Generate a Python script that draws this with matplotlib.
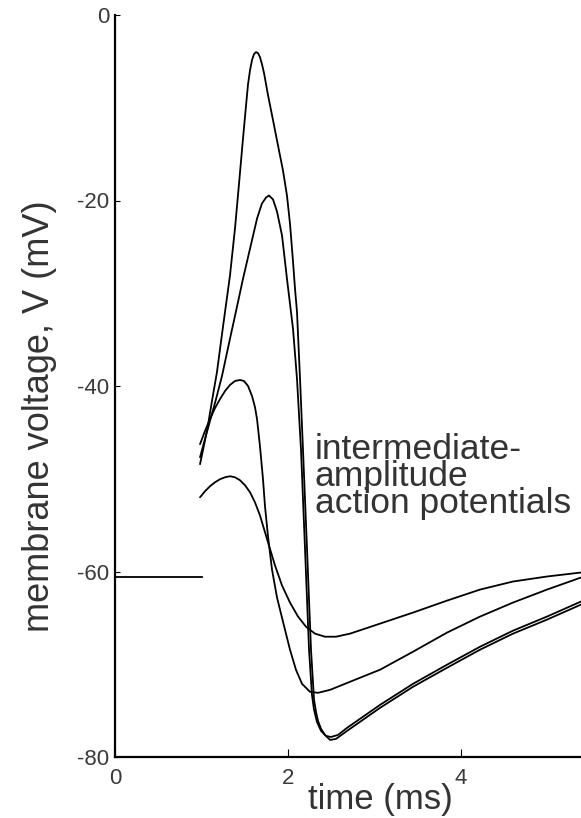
import matplotlib
matplotlib.use("Agg")
import matplotlib.pyplot as plt

plt.rcParams['font.family'] = ['Liberation Sans', 'DejaVu Sans']
plt.rcParams['axes.unicode_minus'] = False

# Membrane voltage traces (time in ms, voltage in mV)
t_large = [0.983, 1.029, 1.075, 1.121, 1.179, 1.225, 1.272, 1.329, 1.387, 1.434, 1.480, 1.514,
           1.538, 1.561, 1.584, 1.607, 1.630, 1.653, 1.676, 1.699, 1.723, 1.746, 1.769, 1.827,
           1.884, 1.942, 1.988, 2.023, 2.058, 2.081, 2.104, 2.139, 2.173, 2.220, 2.266, 2.301,
           2.324, 2.347, 2.382, 2.428, 2.486, 2.555, 2.682, 3.064, 3.445, 3.838, 4.220, 4.601,
           4.994, 5.387]
v_large = [-48.43, -46.38, -44.22, -41.62, -38.49, -35.24, -32.00, -28.11, -23.03, -18.16, -13.30, -9.84,
           -7.46, -5.95, -4.86, -4.22, -4.00, -4.11, -4.54, -5.30, -6.27, -7.46, -8.65, -11.35,
           -14.05, -16.76, -19.46, -22.49, -26.59, -29.51, -32.00, -39.24, -46.81, -57.62, -68.43, -73.84,
           -75.14, -76.11, -76.97, -77.62, -78.16, -78.05, -77.19, -74.70, -72.43, -70.38, -68.43, -66.70,
           -65.19, -63.57]

t_second = [0.983, 1.040, 1.098, 1.168, 1.237, 1.329, 1.410, 1.480, 1.561, 1.642, 1.699, 1.746,
            1.780, 1.827, 1.873, 1.931, 1.988, 2.023, 2.058, 2.104, 2.150, 2.197, 2.243, 2.277,
            2.301, 2.335, 2.382, 2.439, 2.497, 2.578, 2.682, 3.064, 3.445, 3.838, 4.220, 4.601,
            4.994, 5.387]
v_second = [-47.68, -45.73, -43.78, -41.41, -38.92, -34.92, -31.46, -28.43, -25.19, -21.95, -20.32, -19.68,
            -19.46, -19.89, -21.19, -23.78, -28.43, -31.14, -33.84, -39.24, -46.81, -57.62, -68.43, -73.30,
            -74.92, -76.22, -77.19, -77.73, -77.84, -77.62, -76.86, -74.38, -72.11, -70.05, -68.11, -66.38,
            -64.86, -63.24]

t_third = [0.983, 1.040, 1.098, 1.156, 1.214, 1.272, 1.329, 1.387, 1.445, 1.491, 1.538, 1.584,
           1.618, 1.642, 1.676, 1.711, 1.734, 1.769, 1.815, 1.873, 1.942, 2.023, 2.092, 2.162,
           2.254, 2.347, 2.486, 2.717, 3.064, 3.445, 3.838, 4.220, 4.601, 4.994, 5.387]
v_third = [-46.27, -44.86, -43.57, -42.38, -41.41, -40.54, -39.89, -39.46, -39.35, -39.46, -40.00, -41.08,
           -42.27, -43.57, -46.49, -50.05, -52.97, -56.22, -59.78, -62.81, -65.41, -68.43, -70.59, -72.11,
           -72.97, -73.08, -72.76, -71.89, -70.59, -68.65, -66.59, -64.86, -63.35, -61.95, -60.65]

t_small = [0.983, 1.040, 1.098, 1.156, 1.214, 1.272, 1.329, 1.387, 1.445, 1.503, 1.561, 1.618,
           1.676, 1.769, 1.850, 1.931, 2.023, 2.116, 2.208, 2.312, 2.428, 2.555, 2.717, 3.064,
           3.445, 3.838, 4.220, 4.601, 4.994, 5.387]
v_small = [-52.00, -51.35, -50.81, -50.38, -50.05, -49.84, -49.73, -49.84, -50.16, -50.70, -51.46, -52.54,
           -53.95, -56.86, -59.35, -61.51, -63.35, -64.86, -65.95, -66.70, -67.03, -67.03, -66.70, -65.62,
           -64.43, -63.14, -61.95, -61.08, -60.54, -60.11]

# Resting level before stimulus offset
t_rest = [0.0, 1.0]
v_rest = [-60.6, -60.6]

x_ticks = [0, 2, 4]
y_ticks = [-80, -60, -40, -20, 0]
note_text = "intermediate-\namplitude\naction potentials"

W, H = 581, 818
fig = plt.figure(figsize=(W / 100, H / 100), dpi=100)
ax = fig.add_axes([115 / W, 1 - 757 / H, 519 / W, (757 - 15) / H])

lw = 1.3
for tt, vv in [(t_large, v_large), (t_second, v_second), (t_third, v_third), (t_small, v_small)]:
    ax.plot(tt, vv, color='black', lw=lw, solid_joinstyle='round', solid_capstyle='round')
ax.plot(t_rest, v_rest, color='black', lw=lw)

ax.set_xlim(0, 6)
ax.set_ylim(-80, 0)
ax.set_xticks(x_ticks)
ax.set_yticks(y_ticks)
ax.set_xticklabels([str(v) for v in x_ticks])
ax.set_yticklabels([str(v) for v in y_ticks])

for side in ['top', 'right']:
    ax.spines[side].set_visible(False)
for side in ['left', 'bottom']:
    ax.spines[side].set_linewidth(1.6)

ax.tick_params(axis='x', direction='in', length=6, width=0.8, pad=8,
               labelsize=16, labelcolor='#3a3a3a')
ax.tick_params(axis='y', direction='in', length=3.5, width=0.8, pad=4,
               labelsize=16, labelcolor='#3a3a3a')

fig.text(380 / W, 1 - 800 / H, "time (ms)", ha='center', va='center',
         fontsize=25, color='#333333')
fig.text(40 / W, 1 - 416 / H, "membrane voltage, V (mV)", rotation=90,
         ha='center', va='center', fontsize=26, color='#333333')

fig.text(315 / W, 1 - 433 / H, note_text, ha='left', va='top',
         fontsize=25.5, linespacing=0.76, color='#333333')

fig.savefig("out.png", dpi=100)
